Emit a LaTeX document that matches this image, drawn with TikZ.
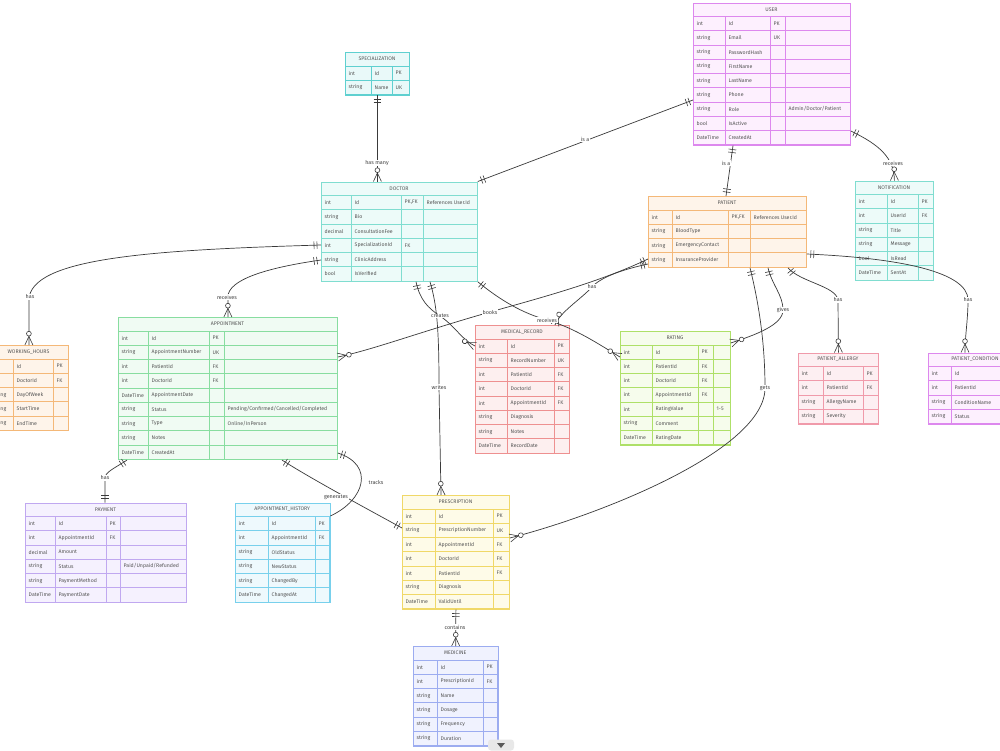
\documentclass[tikz,border=0pt]{standalone}
\usepackage{fontspec}
\setmainfont{Fira Sans}
\usetikzlibrary{decorations.markings}
\definecolor{lncol}{HTML}{3A3A3A}
\definecolor{txtcol}{HTML}{555555}
\definecolor{userB}{HTML}{DD88EE}\definecolor{userF}{HTML}{FDF0FE}
\definecolor{specB}{HTML}{5FD0D0}\definecolor{specF}{HTML}{E9F9F9}
\definecolor{docB}{HTML}{80DDD0}\definecolor{docF}{HTML}{EDFBF9}
\definecolor{patB}{HTML}{F4B878}\definecolor{patF}{HTML}{FEF4EA}
\definecolor{notB}{HTML}{80DDD0}\definecolor{notF}{HTML}{EDFBF9}
\definecolor{whB}{HTML}{F4B878}\definecolor{whF}{HTML}{FEF4EA}
\definecolor{apB}{HTML}{88DDA0}\definecolor{apF}{HTML}{F0FBF3}
\definecolor{mrB}{HTML}{EE9090}\definecolor{mrF}{HTML}{FDEFEF}
\definecolor{raB}{HTML}{AEE068}\definecolor{raF}{HTML}{F6FCEC}
\definecolor{paB}{HTML}{F09AAA}\definecolor{paF}{HTML}{FDEFF2}
\definecolor{pcB}{HTML}{DD88EE}\definecolor{pcF}{HTML}{FDF0FE}
\definecolor{payB}{HTML}{C0A8F0}\definecolor{payF}{HTML}{F5F1FE}
\definecolor{ahB}{HTML}{78D0EC}\definecolor{ahF}{HTML}{EEF9FD}
\definecolor{prB}{HTML}{F0D868}\definecolor{prF}{HTML}{FEFBE8}
\definecolor{meB}{HTML}{9CACF0}\definecolor{meF}{HTML}{F0F2FE}
\newcommand{\mkone}[1]{\draw[lncol,line width=0.6pt] (#1*4pt,-3.8pt)--(#1*4pt,3.8pt) (#1*7pt,-3.8pt)--(#1*7pt,3.8pt);}
\newcommand{\mkmany}[1]{\draw[lncol,line width=0.6pt] (0pt,-4pt)--(#1*8.5pt,0pt)--(0pt,4pt); \draw[lncol,line width=0.6pt,fill=white] (#1*11.3pt,0pt) circle (2.4pt);}
\newcommand{\setx}[5]{\def\xa{#1}\def\xb{#2}\def\xc{#3}\def\xd{#4}\def\xe{#5}}
\newcommand{\ertbl}[6]{%
  \pgfmathsetmacro{\yh}{#3+14}%
  \pgfmathsetmacro{\ybot}{#3+14+#4*14.25}%
  \pgfmathsetmacro{\ertw}{\xe-\xa}%
  \pgfmathsetmacro{\erth}{\ybot-#3}%
  \node[draw=#2B, fill=#2F, line width=0.8pt, inner sep=0pt, minimum width=\ertw pt, minimum height=\erth pt, anchor=north west] (#1) at (\xa,#3) {};
  \draw[#2B, line width=0.8pt] (\xa,\yh) -- (\xe,\yh);
  \draw[#2B, line width=0.8pt] (\xb,\yh) -- (\xb,\ybot) (\xc,\yh) -- (\xc,\ybot) (\xd,\yh) -- (\xd,\ybot);
  \node[hdr] (#1-h) at ({(\xa+\xe)/2},{#3+7}) {#5};
  \foreach[count=\i] \ca/\cb/\cc/\cd in {#6} {
    \pgfmathsetmacro{\ym}{\yh+(\i-0.5)*14.25}
    \pgfmathsetmacro{\yb}{\yh+\i*14.25}
    \draw[#2B, line width=0.8pt] (\xa,\yb) -- (\xe,\yb);
    \node[cell] (#1-a\i) at ({\xa+3.5},\ym) {\ca};
    \node[cell] (#1-b\i) at ({\xb+3.5},\ym) {\cb};
    \node[cell] (#1-c\i) at ({\xc+3.5},\ym) {\cc};
    \node[cell] (#1-d\i) at ({\xd+3.5},\ym) {\cd};
  }
}
\tikzset{
  rel/.style={draw=lncol, line width=0.7pt},
  s1/.style={postaction={decorate,decoration={markings,mark=at position 0 with {\mkone{1}}}}},
  e1/.style={postaction={decorate,decoration={markings,mark=at position 0.9999 with {\mkone{-1}}}}},
  eN/.style={postaction={decorate,decoration={markings,mark=at position 0.9999 with {\mkmany{-1}}}}},
  lbl/.style={font=\fontsize{5.4}{6}\selectfont, text=txtcol!80!black, fill=white, inner sep=0.6pt},
  hdr/.style={font=\fontsize{5.2}{6}\selectfont, text=txtcol, inner sep=0pt},
  cell/.style={font=\fontsize{5.2}{6}\selectfont, text=txtcol, inner sep=0pt, anchor=west},
}
\begin{document}
\begin{tikzpicture}[x=1pt,y=-1pt]
\path[use as bounding box] (0,0) rectangle (1000,750);
\clip (0,0) rectangle (1000,750);
\fill[white] (0,0) rectangle (1000,750);

\setx{693}{725}{770}{785}{850}
\ertbl{user}{user}{2.5}{9}{USER}{int/Id/PK/{}, string/Email/UK/{}, string/PasswordHash/{}/{}, string/FirstName/{}/{}, string/LastName/{}/{}, string/Phone/{}/{}, string/Role/{}/{Admin/Doctor/Patient}, bool/IsActive/{}/{}, DateTime/CreatedAt/{}/{}}

\setx{345}{371}{392}{409}{409}
\ertbl{spec}{spec}{52}{2}{SPECIALIZATION}{int/Id/PK/{}, string/Name/UK/{}}

\setx{321}{351}{401}{423}{477}
\ertbl{doctor}{doc}{181.5}{6}{DOCTOR}{int/Id/{PK,FK}/{References User.Id}, string/Bio/{}/{}, decimal/ConsultationFee/{}/{}, int/SpecializationId/FK/{}, string/ClinicAddress/{}/{}, bool/IsVerified/{}/{}}

\setx{648}{672}{728}{750}{806}
\ertbl{patient}{pat}{196}{4}{PATIENT}{int/Id/{PK,FK}/{References User.Id}, string/BloodType/{}/{}, string/EmergencyContact/{}/{}, string/InsuranceProvider/{}/{}}

\setx{855}{887}{918}{933}{933}
\ertbl{notif}{not}{180.5}{6}{NOTIFICATION}{int/Id/PK/{}, int/UserId/FK/{}, string/Title/{}/{}, string/Message/{}/{}, bool/IsRead/{}/{}, DateTime/SentAt/{}/{}}

\setx{-11}{13}{53}{68}{68}
\ertbl{wh}{wh}{345}{5}{WORKING\_HOURS}{int/Id/PK/{}, int/DoctorId/FK/{}, string/DayOfWeek/{}/{}, string/StartTime/{}/{}, string/EndTime/{}/{}}

\setx{118}{148}{209}{224}{337}
\ertbl{appt}{ap}{317}{9}{APPOINTMENT}{int/Id/PK/{}, string/AppointmentNumber/UK/{}, int/PatientId/FK/{}, int/DoctorId/FK/{}, DateTime/AppointmentDate/{}/{}, string/Status/{}/{Pending/Confirmed/Cancelled/Completed}, string/Type/{}/{Online/InPerson}, string/Notes/{}/{}, DateTime/CreatedAt/{}/{}}

\setx{475}{507}{554}{569}{569}
\ertbl{mr}{mr}{325}{8}{MEDICAL\_RECORD}{int/Id/PK/{}, string/RecordNumber/UK/{}, int/PatientId/FK/{}, int/DoctorId/FK/{}, int/AppointmentId/FK/{}, string/Diagnosis/{}/{}, string/Notes/{}/{}, DateTime/RecordDate/{}/{}}

\setx{620}{652}{698}{713}{730}
\ertbl{rating}{ra}{331}{7}{RATING}{int/Id/PK/{}, int/PatientId/FK/{}, int/DoctorId/FK/{}, int/AppointmentId/FK/{}, int/RatingValue/{}/1-5, string/Comment/{}/{}, DateTime/RatingDate/{}/{}}

\setx{798}{823}{863}{878}{878}
\ertbl{pa}{pa}{352.5}{4}{PATIENT\_ALLERGY}{int/Id/PK/{}, int/PatientId/FK/{}, string/AllergyName/{}/{}, string/Severity/{}/{}}

\setx{928}{951}{1008}{1022}{1022}
\ertbl{pc}{pc}{352.5}{4}{PATIENT\_CONDITION}{int/Id/PK/{}, int/PatientId/FK/{}, string/ConditionName/{}/{}, string/Status/{}/{}}

\setx{25}{55}{106}{120}{186}
\ertbl{pay}{pay}{502.5}{6}{PAYMENT}{int/Id/PK/{}, int/AppointmentId/FK/{}, decimal/Amount/{}/{}, string/Status/{}/{Paid/Unpaid/Refunded}, string/PaymentMethod/{}/{}, DateTime/PaymentDate/{}/{}}

\setx{235}{268}{315}{329.5}{329.5}
\ertbl{ah}{ah}{502.5}{6}{APPOINTMENT\_HISTORY}{int/Id/PK/{}, int/AppointmentId/FK/{}, string/OldStatus/{}/{}, string/NewStatus/{}/{}, string/ChangedBy/{}/{}, DateTime/ChangedAt/{}/{}}

\setx{402}{435}{493}{509}{509}
\ertbl{presc}{pr}{495}{7}{PRESCRIPTION}{int/Id/PK/{}, string/PrescriptionNumber/UK/{}, int/AppointmentId/FK/{}, int/DoctorId/FK/{}, int/PatientId/FK/{}, string/Diagnosis/{}/{}, DateTime/ValidUntil/{}/{}}

\setx{413}{437}{483}{497.5}{497.5}
\ertbl{med}{me}{646}{6}{MEDICINE}{int/Id/PK/{}, int/PrescriptionId/FK/{}, string/Name/{}/{}, string/Dosage/{}/{}, string/Frequency/{}/{}, string/Duration/{}/{}}

% connectors
\draw[rel,s1,eN] (spec.south) -- (spec.south |- doctor.north);
\draw[rel,s1,e1] (user.west |- 0,100) -- (doctor.north east);
\draw[rel,s1,e1] ([xshift=40pt]user.south west) -- ([xshift=78pt]patient.north west);
\draw[rel,s1,eN] (user.east |- 0,131) .. controls (880,145) and (894,158) .. (notif.north);
\draw[rel,s1,eN] (doctor.west |- 0,245) .. controls (150,250) and (30,258) .. (wh.north |- 0,300) -- (wh.north);
\draw[rel,s1,eN] (doctor.west |- 0,260) .. controls (265,268) and (228,280) .. (appt.north |- 0,297) -- (appt.north);
\draw[rel,s1,eN] ([xshift=95pt]doctor.south west) .. controls (420,300) and (428,308) .. (440,316) .. controls (455,326) and (462,340) .. (mr.west |- 0,346);
\draw[rel,s1,eN] ([xshift=109pt]doctor.south west) .. controls (437,305) and (439,330) .. (439,387) -- ([xshift=39pt]presc.north west);
\draw[rel,s1,eN] (doctor.south east) .. controls (500,300) and (522,313) .. (547,320) .. controls (575,328) and (600,345) .. (rating.west |- 0,357);
\draw[rel,s1,eN] (patient.west |- 0,259) .. controls (600,282) and (540,298) .. (490,312) .. controls (420,332) and (372,350) .. (appt.east |- 0,357);
\draw[rel,s1,eN] (patient.west |- 0,264) .. controls (620,270) and (600,278) .. (592,287) .. controls (580,300) and (560,312) .. ([xshift=80pt]mr.north west);
\draw[rel,s1,eN] ([xshift=120pt]patient.south west) .. controls (772,285) and (783,295) .. (783,310) .. controls (783,325) and (755,335) .. (rating.east |- 0,343);
\draw[rel,s1,eN] ([xshift=102pt]patient.south west) .. controls (758,300) and (765,340) .. (765,388) .. controls (765,450) and (600,515) .. (presc.east |- 0,538);
\draw[rel,s1,eN] ([xshift=140pt]patient.south west) .. controls (800,282) and (836,286) .. (838,300) -- (pa.north);
\draw[rel,s1,eN] (patient.east |- 0,254) .. controls (900,258) and (968,272) .. (968,300) .. controls (968,320) and (965,335) .. ([xshift=37pt]pc.north west);
\draw[rel,s1,e1] ([xshift=9pt]appt.south west) .. controls (115,468) and (105,472) .. (105,478) -- ([xshift=80pt]pay.north west);
\draw[rel,s1,e1] ([xshift=164pt]appt.south west) .. controls (310,478) and (360,505) .. (presc.west |- 0,528);
\draw[rel,s1,eN] (appt.east |- 0,453) .. controls (375,465) and (365,500) .. (ah.east |- 0,516);
\draw[rel,s1,eN] (presc.south) -- (med.north);

% labels
\node[lbl] (l1) at (377,163) {has many};
\node[lbl] (l2) at (585,139) {is a};
\node[lbl] (l3) at (726,163) {is a};
\node[lbl] (l4) at (893,163) {receives};
\node[lbl] (l5) at (30,297) {has};
\node[lbl] (l6) at (227,297) {receives};
\node[lbl] (l7) at (440,316) {creates};
\node[lbl] (l8) at (439,387) {writes};
\node[lbl] (l9) at (547,320) {receives};
\node[lbl] (l10) at (490,312) {books};
\node[lbl] (l11) at (592,287) {has};
\node[lbl] (l12) at (783,310) {gives};
\node[lbl] (l13) at (765,388) {gets};
\node[lbl] (l14) at (838,300) {has};
\node[lbl] (l15) at (968,300) {has};
\node[lbl] (l16) at (105,478) {has};
\node[lbl] (l17) at (336,497) {generates};
\node[lbl] (l18) at (376,482) {tracks};
\node[lbl] (l19) at (455,627) {contains};

% scroll button
\node[fill=black!9, rounded corners=3pt, minimum width=26pt, minimum height=11pt, inner sep=0pt] (pill) at (501,745) {};
\fill[black!65] ([xshift=-4pt,yshift=2pt]pill.center) -- ([xshift=4pt,yshift=2pt]pill.center) -- ([yshift=-3pt]pill.center) -- cycle;
\end{tikzpicture}
\end{document}
